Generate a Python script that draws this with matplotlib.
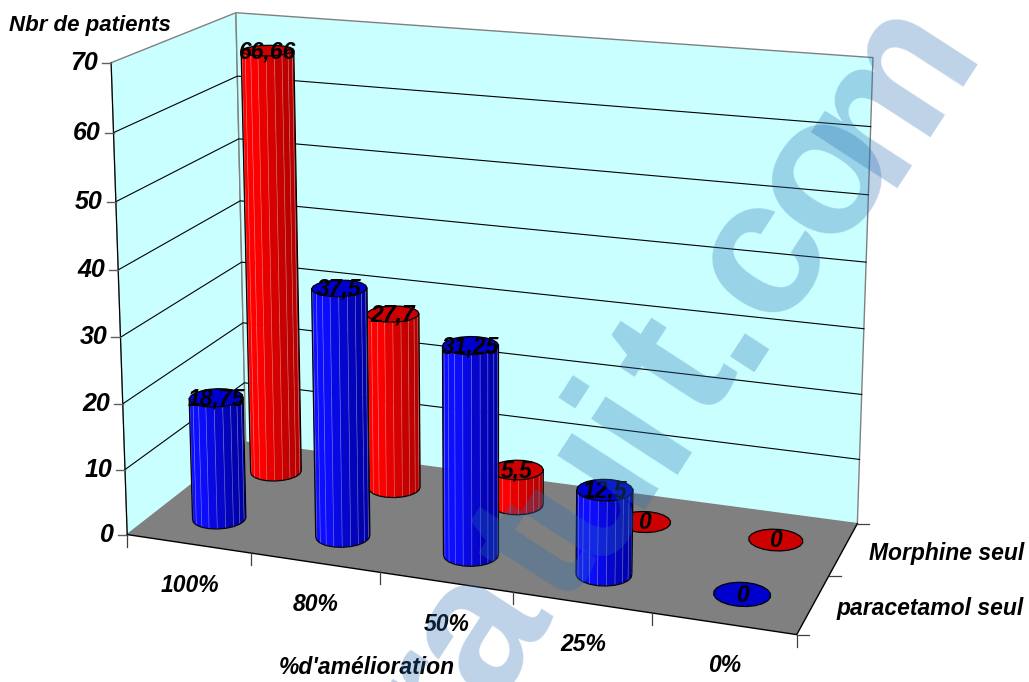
import numpy as np
import matplotlib
matplotlib.use('Agg')
import matplotlib.pyplot as plt
from matplotlib.collections import PolyCollection, LineCollection

categories = ['100%', '80%', '50%', '25%', '0%']
series_names = ['paracetamol seul', 'Morphine seul']
paracetamol = [18.75, 37.5, 31.25, 12.5, 0]
morphine = [66.66, 27.7, 5.5, 0, 0]
value_ticks = [0, 10, 20, 30, 40, 50, 60, 70]

plt.rcParams['font.family'] = ['Liberation Sans', 'DejaVu Sans']
FONT = dict(fontsize=16.5, fontweight='bold', fontstyle='italic', color='black')

# box corners of the 3d plot -> screen pixels, used to solve the perspective matrix
box_world = [(0, 0, 0), (5, 0, 0), (5, 2, 0), (0, 2, 0), (0, 0, 70), (0, 2, 70), (5, 2, 70)]
box_screen = [(128, 534), (796, 636), (858, 522), (245, 443), (111, 62), (236, 13), (873, 58)]

# stamp letters, with their distance along the slanted baseline
stamp_letters = list('ratuit.com')
stamp_offsets = [-470, -388, -292, -211, -129, -58, 0, 82, 185, 292]


def solve_camera(world, screen):
    rows = []
    for (x, y, z), (u, v) in zip(world, screen):
        rows.append([x, y, z, 1, 0, 0, 0, 0, -u * x, -u * y, -u * z, -u])
        rows.append([0, 0, 0, 0, x, y, z, 1, -v * x, -v * y, -v * z, -v])
    return np.linalg.svd(np.array(rows, dtype=float))[2][-1].reshape(3, 4)


CAM = solve_camera(box_world, box_screen)


def proj(x, y, z):
    x, y, z = np.broadcast_arrays(x, y, z)
    p = CAM @ np.vstack([x.ravel(), y.ravel(), z.ravel(), np.ones(x.size)])
    pts = (p[:2] / p[2]).T
    return pts[0] if x.ndim == 0 else pts


def cylinder(ax, cx, cy, h, side_light, side_dark, top, rx=0.197, ry=0.2, n=20):
    t = np.linspace(0, 2 * np.pi, n + 1) + 0.08
    xs, ys = cx + rx * np.cos(t), cy + ry * np.sin(t)
    top_ring = proj(xs, ys, h)
    if h > 0:
        bot_ring = proj(xs, ys, 0 * xs)
        quads, colors, front = [], [], []
        for i in range(n):
            q = np.array([bot_ring[i], bot_ring[i + 1], top_ring[i + 1], top_ring[i]])
            area = 0.5 * np.sum(q[:, 0] * np.roll(q[:, 1], -1) - np.roll(q[:, 0], -1) * q[:, 1])
            vis = area < 0
            front.append(vis)
            if vis:
                quads.append(q)
                s = np.clip((np.cos((t[i] + t[i + 1]) / 2) + 0.15) / 1.15, 0, 1)
                colors.append(np.array(side_light) * (1 - s) + np.array(side_dark) * s)
        edges = [tuple(c) + (0.6,) for c in np.array(colors) * 0.55 + 0.45]
        ax.add_collection(PolyCollection(quads, facecolors=colors, edgecolors=edges, linewidths=0.5, zorder=3))
        segs = []
        for i in range(n):
            if front[i]:
                segs.append([bot_ring[i], bot_ring[i + 1]])
            if front[i] != front[i - 1]:
                segs.append([bot_ring[i], top_ring[i]])
        ax.add_collection(LineCollection(segs, colors='black', linewidths=0.9, zorder=3))
    ax.fill(top_ring[:, 0], top_ring[:, 1], facecolor=top, edgecolor='black', linewidth=0.9, zorder=3)


fig = plt.figure(figsize=(10.29, 6.82), dpi=100)
ax = fig.add_axes([0, 0, 1, 1])
ax.set_xlim(0, 1029)
ax.set_ylim(682, 0)
ax.axis('off')

# walls and floor
wall_col = '#c9ffff'
left = proj([0, 0, 0, 0], [0, 2, 2, 0], [0, 0, 70, 70])
back = proj([0, 5, 5, 0], [2, 2, 2, 2], [0, 0, 70, 70])
floor = proj([0, 5, 5, 0], [0, 0, 2, 2], [0, 0, 0, 0])
ax.fill(left[:, 0], left[:, 1], facecolor=wall_col, edgecolor='#808080', linewidth=1)
ax.fill(back[:, 0], back[:, 1], facecolor=wall_col, edgecolor='#808080', linewidth=1)
ax.fill(floor[:, 0], floor[:, 1], facecolor='#808080', edgecolor='none')

# gridlines along the two walls
for v in value_ticks[1:-1]:
    pts = proj([0, 0, 5], [0, 2, 2], [v, v, v])
    ax.plot(pts[:, 0], pts[:, 1], color='black', lw=0.8)

# axis lines
edge = proj([0, 0], [0, 0], [0, 70])
ax.plot(edge[:, 0], edge[:, 1], color='black', lw=0.8)
edge = proj([0, 5, 5], [0, 0, 2], [0, 0, 0])
ax.plot(edge[:, 0], edge[:, 1], color='black', lw=1)

# value axis ticks and labels
for v in value_ticks:
    px, py = proj(0, 0, v)
    ax.plot([px - 9, px], [py, py], color='#606060', lw=1)
    ax.text(px - 13, py, str(v), ha='right', va='center',
            **{**FONT, 'fontsize': 18})

# category ticks and labels
for i in range(len(categories) + 1):
    px, py = proj(i, 0, 0)
    ax.plot([px, px], [py, py + 12], color='#404040', lw=0.9)
for i, name in enumerate(categories):
    px, py = proj(i + 0.5, 0, 0)
    ax.text(px + 1, py + 42, name, ha='center', va='center', **FONT)

# series ticks and labels
for j in range(3):
    px, py = proj(5, j, 0)
    ax.plot([px, px + 12], [py, py], color='#404040', lw=0.9)
for j, name in enumerate(series_names):
    px, py = proj(5, j + 0.5, 0)
    ax.text(1024, py + 4, name, ha='right', va='center', **FONT)

ax.text(90, 25, 'Nbr de patients', ha='center', va='center', **{**FONT, 'fontsize': 16})
ax.text(367, 668, "%d'amélioration", ha='center', va='center', **FONT)

# back row first so the front row covers it
red = dict(side_light=(1, 0, 0), side_dark=(0.72, 0, 0), top='#cc0000')
blue = dict(side_light=(0.05, 0.05, 1), side_dark=(0, 0, 0.66), top='#0000cc')
for row_y, vals, style in [(1.5, morphine, red), (0.5, paracetamol, blue)]:
    for i, val in enumerate(vals):
        cylinder(ax, i + 0.5, row_y, val, **style)
    for i, val in enumerate(vals):
        px, py = proj(i + 0.5, row_y, val)
        ax.text(px, py + 1, str(val).replace('.', ','), ha='center', va='center', zorder=4, **FONT)

# site stamp across the page, one letter at a time along a slanted baseline
angle = np.radians(53)
for letter, s in zip(stamp_letters, stamp_offsets):
    ax.text(756 + s * np.cos(angle), 349 - s * np.sin(angle), letter, rotation=57, rotation_mode='anchor',
            ha='center', va='baseline', fontsize=140, fontweight='bold', fontstyle='normal',
            color=(38 / 255, 108 / 255, 178 / 255), alpha=0.3, zorder=10)

fig.savefig('out.png', dpi=100)
